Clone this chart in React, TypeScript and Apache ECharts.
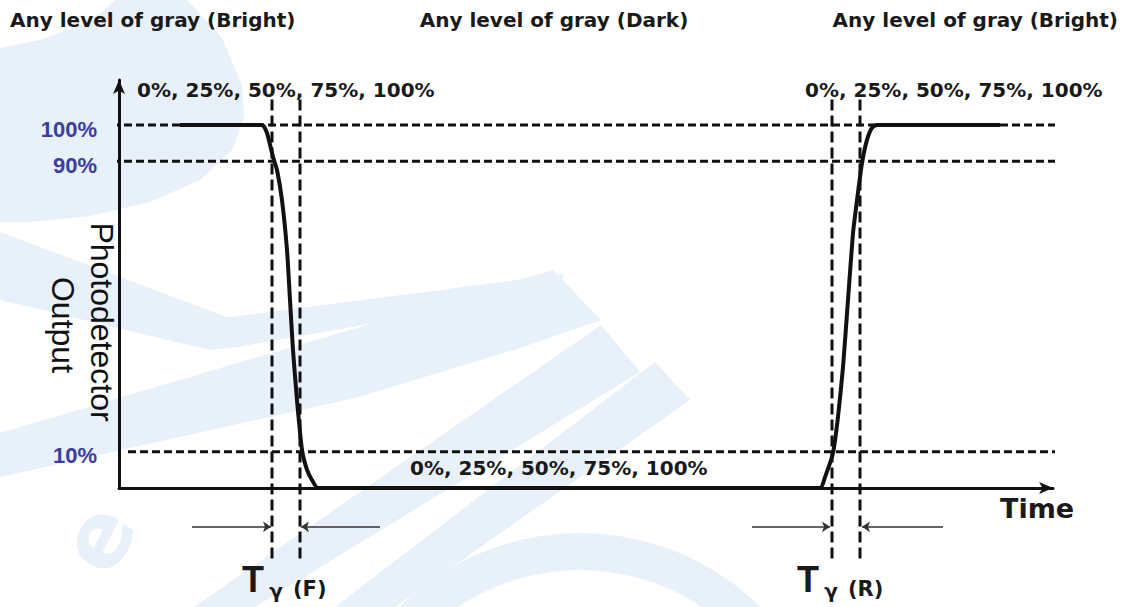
import React, { useEffect, useRef } from 'react';
import * as echarts from 'echarts';

// ---- data (time in arbitrary units, output level in %) ----
const waveTime = [61, 143, 148, 154, 158, 163, 168, 171, 174, 178, 183, 188, 193, 199,
  701, 706, 714, 719, 724, 729, 734, 738, 743, 748, 753, 758, 881];
const waveLevel = [100, 100, 97.8, 91.2, 87.6, 79.3, 65.6, 51.8, 38.0, 24.2, 10.5, 5.0, 2.2, 0,
  0, 3.0, 9.6, 19.6, 33.3, 51.8, 70.2, 79.3, 89.5, 95.9, 99.2, 100, 100];

const refLevels = [100, 90, 10];
const refStartTime = [-19, -19, 9];
const refEndTime = 938;

const markerTimes = [153, 181, 713, 741];
const markerRange = [107, -20];

const spanFrom = [73, 261, 633, 824];
const spanTo = [152, 182, 711, 743];
const spanLevel = -10.7;

const yTickValues = [10, 90, 100];
const yTickLabels = ['10%', '90%', '100%'];

const stateLabels = ['Any level of gray (Bright)', 'Any level of gray (Dark)', 'Any level of gray (Bright)'];
const grayLevels = '0%, 25%, 50%, 75%, 100%';

export default function App() {
  const ref = useRef<HTMLDivElement>(null);
  useEffect(() => {
    if (!ref.current) return;
    const chart = echarts.init(ref.current, undefined, { renderer: 'svg' });
    const ink = '#111111';
    const wm = '#e8f0f9';
    const series: any[] = [];

    refLevels.forEach((lv, i) => {
      series.push({
        type: 'line', clip: false, symbol: 'none', silent: true, z: 3,
        lineStyle: { color: ink, width: 3, type: [8, 4] },
        data: [[refStartTime[i], lv], [refEndTime, lv]],
      });
    });
    markerTimes.forEach((t) => {
      series.push({
        type: 'line', clip: false, symbol: 'none', silent: true, z: 3,
        lineStyle: { color: ink, width: 3, type: [11, 5] },
        data: [[t, markerRange[0]], [t, markerRange[1]]],
      });
    });
    series.push({
      type: 'line', clip: false, symbol: 'none', silent: true, z: 5,
      smooth: 0.2,
      lineStyle: { color: ink, width: 4 },
      data: waveTime.map((t, i) => [t, waveLevel[i]]),
    });
    series.push({
      type: 'lines', coordinateSystem: 'cartesian2d', clip: false, silent: true, z: 4,
      symbol: ['none', 'arrow'], symbolSize: 8,
      lineStyle: { color: '#333', width: 1.5, opacity: 1 },
      data: spanFrom.map((f, i) => ({ coords: [[f, spanLevel], [spanTo[i], spanLevel]] })),
    });

    const txt = (x: number, y: number, text: string, font: string, align = 'left', fill = '#1a1a1a', extra: any = {}) => ({
      type: 'text', x, y, z: 50, silent: true, ...extra,
      style: { text, font, fill, textAlign: align, textVerticalAlign: 'middle' },
    });
    const wmPoly = (points: number[][]) => ({ type: 'polygon', z: -10, silent: true, style: { fill: wm }, shape: { points } });

    const graphic: any[] = [
      // watermark
      wmPoly([[115, 0], [187, 0], [222, 38], [242, 85], [244, 118], [232, 150], [200, 180], [150, 202], [90, 216], [30, 222], [0, 222], [0, 48], [40, 40], [78, 26], [102, 12]]),
      wmPoly([[0, 232], [240, 322], [237, 347], [210, 350], [0, 300]]),
      wmPoly([[208, 320], [565, 274], [553, 292], [237, 347]]),
      wmPoly([[0, 433], [553, 270], [601, 320], [520, 348], [359, 397], [0, 477]]),
      wmPoly([[194, 607], [255, 607], [640, 372], [601, 325]]),
      wmPoly([[335, 607], [395, 607], [690, 400], [655, 362]]),
      { type: 'ring', z: -10, silent: true, style: { fill: wm }, shape: { cx: 580, cy: 790, r: 257, r0: 220 } },
      { type: 'text', z: -10, silent: true, x: 97, y: 538, rotation: 1.1,
        style: { text: 'e', font: 'bold 90px "DejaVu Sans"', fill: wm, textAlign: 'center', textVerticalAlign: 'middle' } },

      // labels
      txt(10, 20, stateLabels[0], 'bold 20px "DejaVu Sans"'),
      txt(554, 20, stateLabels[1], 'bold 20px "DejaVu Sans"', 'center'),
      txt(1118, 20, stateLabels[2], 'bold 20px "DejaVu Sans"', 'right'),
      txt(137, 90, grayLevels, 'bold 20px "DejaVu Sans"'),
      txt(805, 90, grayLevels, 'bold 20px "DejaVu Sans"'),
      txt(410, 468, grayLevels, 'bold 20px "DejaVu Sans"'),
      txt(1000, 508, 'Time', 'bold 27px "DejaVu Sans"'),
      txt(102, 322, 'Photodetector', '32px "Liberation Sans"', 'center', '#111', { rotation: -Math.PI / 2 }),
      txt(63, 325, 'Output', '32px "Liberation Sans"', 'center', '#111', { rotation: -Math.PI / 2 }),
      txt(242, 579, 'T', 'bold 36px "Liberation Sans"'),
      txt(276, 591, 'γ', 'bold 20px "DejaVu Sans"', 'center'),
      txt(293, 589, '(F)', 'bold 21px "DejaVu Sans"'),
      txt(797, 579, 'T', 'bold 36px "Liberation Sans"'),
      txt(831, 591, 'γ', 'bold 20px "DejaVu Sans"', 'center'),
      txt(848, 589, '(R)', 'bold 21px "DejaVu Sans"'),
    ];

    chart.setOption({
      animation: false,
      backgroundColor: '#ffffff',
      grid: { left: 119, right: 77, top: 80, bottom: 119, containLabel: false },
      xAxis: {
        type: 'value', min: 0, max: 934,
        axisLine: { show: true, onZero: false, symbol: ['none', 'arrow'], symbolSize: [9, 14], lineStyle: { color: ink, width: 3 } },
        axisTick: { show: false }, axisLabel: { show: false }, splitLine: { show: false },
      },
      yAxis: {
        type: 'value', min: 0, max: 112.4, interval: 10,
        axisLine: { show: true, onZero: false, symbol: ['none', 'arrow'], symbolSize: [9, 14], lineStyle: { color: ink, width: 3 } },
        axisTick: { show: false }, splitLine: { show: false },
        axisLabel: {
          margin: 22,
          formatter: (v: number) => {
            const k = yTickValues.indexOf(Math.round(v * 10) / 10);
            return k >= 0 ? '{p|' + yTickLabels[k] + '}' : '';
          },
          rich: {
            p: { color: '#3d3d9e', fontSize: 22, fontWeight: 'bold', fontFamily: 'Liberation Sans', padding: [8, 0, 0, 0] },
          },
        },
      },
      graphic,
      series,
    });
    return () => chart.dispose();
  }, []);
  return <div ref={ref} style={{ position: 'fixed', left: 0, top: 0, width: 1130, height: 607, background: '#fff' }} />;
}
